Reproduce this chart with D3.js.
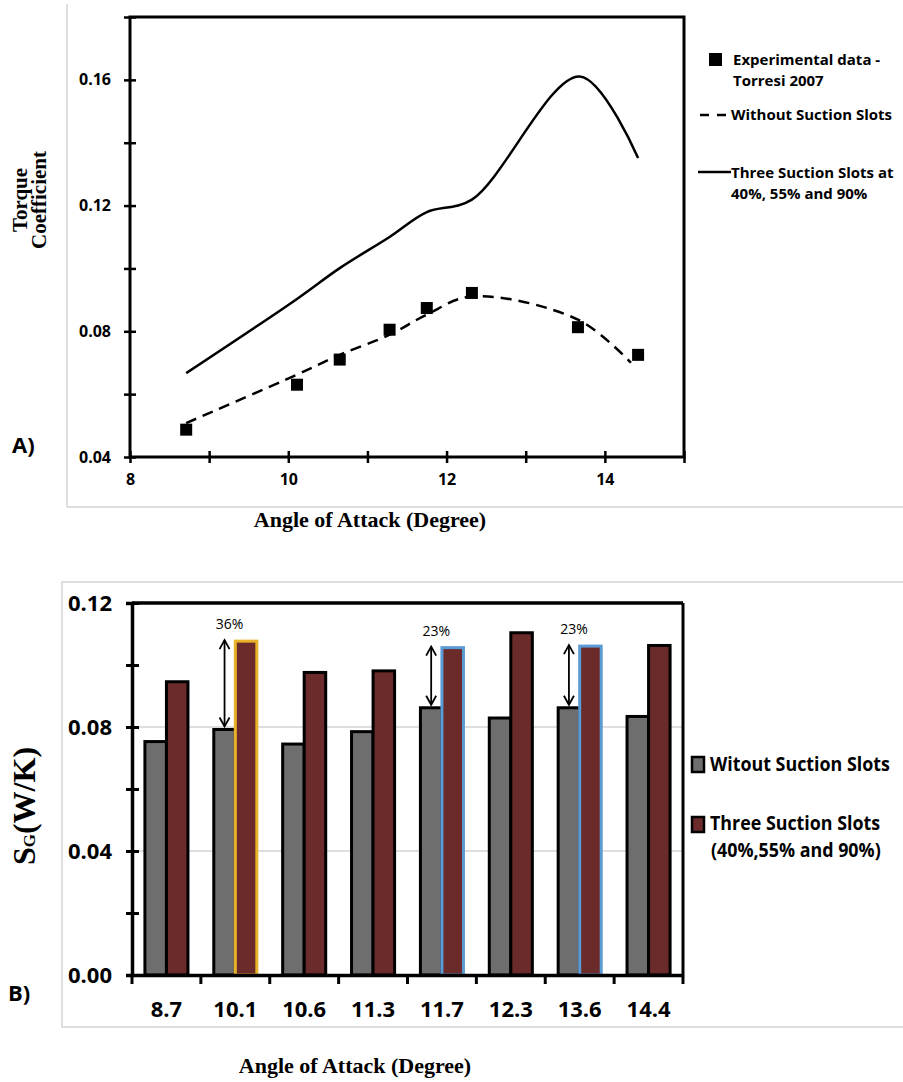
<!DOCTYPE html>
<html>
<head>
<meta charset="utf-8">
<script src="https://cdn.jsdelivr.net/npm/d3@7"></script>
<style>
  html, body { margin: 0; padding: 0; background: #fff; }
  svg { display: block; }
  .sans { font-family: "Open Sans", "Noto Sans", sans-serif; font-weight: bold; }
  .serif { font-family: "Liberation Serif", "DejaVu Serif", serif; font-weight: bold; }
</style>
</head>
<body>
<svg id="chart" width="903" height="1082"></svg>
<script>
// ---------- Panel A data ----------
const angleTicksA = [8, 10, 12, 14];
const angleMinorA = [9, 11, 13, 15];
const torqueTicks = [0.04, 0.08, 0.12, 0.16];
const torqueMinor = [0.06, 0.10, 0.14, 0.18];
const expAngles = [8.71, 10.11, 10.65, 11.28, 11.75, 12.32, 13.66, 14.42];
const expTorque = [0.0487, 0.0630, 0.0710, 0.0805, 0.0874, 0.0922, 0.0813, 0.0725];
const noSlotAngles = [8.71, 10.11, 10.65, 11.28, 11.75, 12.32, 13.66, 14.33];
const noSlotTorque = [0.0508, 0.0662, 0.0725, 0.0789, 0.0853, 0.0911, 0.0837, 0.0700];
const threeSlotAngles = [8.71, 10.11, 10.65, 11.28, 11.75, 12.32, 13.68, 14.42];
const threeSlotTorque = [0.0667, 0.0903, 0.1001, 0.1100, 0.1179, 0.1219, 0.1611, 0.1351];

// ---------- Panel B data ----------
const angleCats = ["8.7", "10.1", "10.6", "11.3", "11.7", "12.3", "13.6", "14.4"];
const sgWithout = [0.0753, 0.0792, 0.0745, 0.0785, 0.0862, 0.0829, 0.0862, 0.0834];
const sgThree = [0.0946, 0.1077, 0.0976, 0.0981, 0.1056, 0.1104, 0.1061, 0.1063];
const sgTicks = [0.00, 0.04, 0.08, 0.12];
const sgMinor = [0.02, 0.06, 0.10];
const arrowCats = ["10.1", "11.7", "13.6"];
const arrowLabels = ["36%", "23%", "23%"];
const highlightCats = ["10.1", "11.7", "13.6"];
const highlightColors = ["#E8B32A", "#5B9BD5", "#5B9BD5"];

const svg = d3.select("#chart");

// panel borders
svg.append("line").attr("x1", 67).attr("x2", 67).attr("y1", 4).attr("y2", 507)
  .attr("stroke", "#d4d4d4").attr("stroke-width", 1.5);
svg.append("line").attr("x1", 67).attr("x2", 903).attr("y1", 507).attr("y2", 507)
  .attr("stroke", "#d4d4d4").attr("stroke-width", 1.5);
svg.append("rect").attr("x", 62).attr("y", 582).attr("width", 850).attr("height", 445)
  .attr("fill", "none").attr("stroke", "#d4d4d4").attr("stroke-width", 1.5);

// ================= Panel A =================
const xA = d3.scaleLinear().domain([8, 15]).range([130, 684]);
const yA = d3.scaleLinear().domain([0.04, 0.18]).range([457, 17]);

const gA = svg.append("g");

// frame
gA.append("rect").attr("x", xA(8)).attr("y", yA(0.18))
  .attr("width", xA(15) - xA(8)).attr("height", yA(0.04) - yA(0.18))
  .attr("fill", "none").attr("stroke", "#000").attr("stroke-width", 3);

// y axis
const yAxisA = gA.append("g").attr("transform", `translate(${xA(8)},0)`)
  .call(d3.axisLeft(yA).tickValues(torqueTicks.concat(torqueMinor))
    .tickFormat(d => torqueTicks.some(t => Math.abs(t - d) < 1e-9) ? d3.format(".2f")(d) : "")
    .tickSize(6).tickPadding(13));
yAxisA.select(".domain").remove();
yAxisA.selectAll(".tick line").attr("x1", 6).attr("stroke", "#000").attr("stroke-width", 2.5);
yAxisA.selectAll(".tick text").attr("class", "sans").attr("font-size", 16).attr("fill", "#000");

// x axis
const xAxisA = gA.append("g").attr("transform", `translate(0,${yA(0.04)})`)
  .call(d3.axisBottom(xA).tickValues(angleTicksA.concat(angleMinorA))
    .tickFormat(d => angleTicksA.includes(d) ? d : "")
    .tickSize(6).tickPadding(11));
xAxisA.select(".domain").remove();
xAxisA.selectAll(".tick line").attr("y1", -6).attr("stroke", "#000").attr("stroke-width", 2.5);
xAxisA.selectAll(".tick text").attr("class", "sans").attr("font-size", 16).attr("fill", "#000");

// curves
const lineThree = d3.line().x((d, i) => xA(threeSlotAngles[i])).y(d => yA(d))
  .curve(d3.curveCatmullRom.alpha(0.5));
gA.append("path").datum(threeSlotTorque).attr("d", lineThree)
  .attr("fill", "none").attr("stroke", "#000").attr("stroke-width", 2.5);

const lineNo = d3.line().x((d, i) => xA(noSlotAngles[i])).y(d => yA(d))
  .curve(d3.curveCatmullRom.alpha(0.5));
gA.append("path").datum(noSlotTorque).attr("d", lineNo)
  .attr("fill", "none").attr("stroke", "#000").attr("stroke-width", 2.5)
  .attr("stroke-dasharray", "11,7");

// experimental squares
gA.selectAll("rect.exp").data(expTorque).join("rect").attr("class", "exp")
  .attr("x", (d, i) => xA(expAngles[i]) - 6).attr("y", d => yA(d) - 6)
  .attr("width", 12).attr("height", 12).attr("fill", "#000");

// legend A
gA.append("rect").attr("x", 709).attr("y", 53).attr("width", 13).attr("height", 13).attr("fill", "#000");
gA.append("text").attr("class", "sans").attr("font-size", 15).attr("x", 733).attr("y", 65).text("Experimental data -");
gA.append("text").attr("class", "sans").attr("font-size", 15).attr("x", 733).attr("y", 86).text("Torresi 2007");
gA.append("line").attr("x1", 700).attr("x2", 729).attr("y1", 115).attr("y2", 115)
  .attr("stroke", "#000").attr("stroke-width", 2.5).attr("stroke-dasharray", "9,8");
gA.append("text").attr("class", "sans").attr("font-size", 15).attr("x", 731).attr("y", 120).text("Without Suction Slots");
gA.append("line").attr("x1", 698).attr("x2", 731).attr("y1", 172).attr("y2", 172)
  .attr("stroke", "#000").attr("stroke-width", 2.5);
gA.append("text").attr("class", "sans").attr("font-size", 15).attr("x", 731).attr("y", 178).text("Three Suction Slots at");
gA.append("text").attr("class", "sans").attr("font-size", 15).attr("x", 731).attr("y", 199).text("40%, 55% and 90%");

// titles A
gA.append("text").attr("class", "serif").attr("font-size", 21).attr("text-anchor", "middle")
  .attr("transform", "translate(27,200) rotate(-90)").text("Torque");
gA.append("text").attr("class", "serif").attr("font-size", 21).attr("text-anchor", "middle")
  .attr("transform", "translate(46,200) rotate(-90)").text("Coefficient");
gA.append("text").attr("class", "serif").attr("font-size", 22).attr("text-anchor", "middle")
  .attr("x", 370).attr("y", 527).text("Angle of Attack (Degree)");
gA.append("text").attr("class", "sans").attr("font-size", 22).attr("x", 12).attr("y", 453).text("A)");

// ================= Panel B =================
const xB = d3.scaleBand().domain(angleCats).range([132, 683]).paddingInner(0).paddingOuter(0);
const x1 = d3.scaleBand().domain(["without", "three"]).range([0, xB.bandwidth()]).paddingInner(0).paddingOuter(0.6);
const yB = d3.scaleLinear().domain([0, 0.12]).range([975, 603]);

const gB = svg.append("g");

// grid
gB.selectAll("line.grid").data([0.04, 0.08]).join("line").attr("class", "grid")
  .attr("x1", 132).attr("x2", 683).attr("y1", d => yB(d)).attr("y2", d => yB(d))
  .attr("stroke", "#bdbdbd").attr("stroke-width", 1.2);

// bars
const barGroups = gB.selectAll("g.cat").data(angleCats).join("g").attr("class", "cat")
  .attr("transform", d => `translate(${xB(d)},0)`);
barGroups.append("rect")
  .attr("x", x1("without")).attr("width", x1.bandwidth())
  .attr("y", (d, i) => yB(sgWithout[i])).attr("height", (d, i) => yB(0) - yB(sgWithout[i]))
  .attr("fill", "#6E6E6E").attr("stroke", "#000").attr("stroke-width", 3);
barGroups.append("rect")
  .attr("x", x1("three")).attr("width", x1.bandwidth())
  .attr("y", (d, i) => yB(sgThree[i])).attr("height", (d, i) => yB(0) - yB(sgThree[i]))
  .attr("fill", "#6C2B2B")
  .attr("stroke", d => { const k = highlightCats.indexOf(d); return k >= 0 ? highlightColors[k] : "#000"; })
  .attr("stroke-width", 3);

// frame (top & right)
gB.append("line").attr("x1", 132).attr("x2", 683).attr("y1", yB(0.12)).attr("y2", yB(0.12))
  .attr("stroke", "#000").attr("stroke-width", 3.5);
gB.append("line").attr("x1", 683).attr("x2", 683).attr("y1", yB(0.12)).attr("y2", yB(0))
  .attr("stroke", "#000").attr("stroke-width", 3);

// y axis B
const yAxisB = gB.append("g").attr("transform", "translate(132,0)")
  .call(d3.axisLeft(yB).tickValues(sgTicks.concat(sgMinor))
    .tickFormat(d => sgTicks.some(t => Math.abs(t - d) < 1e-9) ? d3.format(".2f")(d) : "")
    .tickSize(6).tickPadding(14));
yAxisB.select(".domain").attr("stroke", "#000").attr("stroke-width", 3.5);
yAxisB.selectAll(".tick line").attr("x1", 7).attr("stroke", "#000").attr("stroke-width", 3);
yAxisB.selectAll(".tick text").attr("class", "sans").attr("font-size", 22).attr("fill", "#000");

// x axis B
const xAxisB = gB.append("g").attr("transform", `translate(0,${yB(0)})`)
  .call(d3.axisBottom(xB).tickSize(0).tickPadding(26));
xAxisB.select(".domain").attr("stroke", "#000").attr("stroke-width", 3.5);
xAxisB.selectAll(".tick text").attr("class", "sans").attr("font-size", 22).attr("fill", "#000");
const boundaries = angleCats.map(c => xB(c)).concat([xB.range()[1]]);
xAxisB.selectAll("line.sep").data(boundaries).join("line").attr("class", "sep")
  .attr("x1", d => d).attr("x2", d => d).attr("y1", 0).attr("y2", 9)
  .attr("stroke", "#000").attr("stroke-width", 3);

// arrows & annotations
function arrowHead(g, x, y, dir) {
  g.append("path")
    .attr("d", `M${x - 5},${y + dir * 9} L${x},${y} L${x + 5},${y + dir * 9}`)
    .attr("fill", "none").attr("stroke", "#000").attr("stroke-width", 1.8);
}
arrowCats.forEach((c, k) => {
  const i = angleCats.indexOf(c);
  const x = xB(c) + x1("without") + x1.bandwidth() / 2;
  const yTop = yB(sgThree[i]) - 1;
  const yBot = yB(sgWithout[i]) - 3;
  gB.append("line").attr("x1", x).attr("x2", x).attr("y1", yTop).attr("y2", yBot)
    .attr("stroke", "#000").attr("stroke-width", 1.8);
  arrowHead(gB, x, yTop, 1);
  arrowHead(gB, x, yBot, -1);
  gB.append("text").attr("font-family", "'Open Sans', sans-serif").attr("font-size", 14)
    .attr("text-anchor", "middle").attr("x", x + 5).attr("y", yTop - 11).text(arrowLabels[k]);
});

// legend B
gB.append("rect").attr("x", 692).attr("y", 757).attr("width", 12).attr("height", 15)
  .attr("fill", "#6E6E6E").attr("stroke", "#000").attr("stroke-width", 2.5);
gB.append("text").attr("class", "sans").attr("font-size", 19)
  .attr("transform", "translate(710,771) scale(0.94,1)").text("Witout Suction Slots");
gB.append("rect").attr("x", 692).attr("y", 817).attr("width", 12).attr("height", 15)
  .attr("fill", "#6C2B2B").attr("stroke", "#000").attr("stroke-width", 2.5);
gB.append("text").attr("class", "sans").attr("font-size", 19)
  .attr("transform", "translate(710,830) scale(0.94,1)").text("Three Suction Slots");
gB.append("text").attr("class", "sans").attr("font-size", 19)
  .attr("transform", "translate(711,857) scale(0.94,1)").text("(40%,55% and 90%)");

// titles B
const sgTitle = gB.append("text").attr("class", "serif").attr("text-anchor", "middle")
  .attr("transform", "translate(35,806) rotate(-90)");
sgTitle.append("tspan").attr("font-size", 32).text("S");
sgTitle.append("tspan").attr("font-size", 17).text("G");
sgTitle.append("tspan").attr("font-size", 32).text("(W/K)");
gB.append("text").attr("class", "serif").attr("font-size", 22).attr("text-anchor", "middle")
  .attr("x", 355).attr("y", 1073).text("Angle of Attack (Degree)");
gB.append("text").attr("class", "sans").attr("font-size", 22).attr("x", 8).attr("y", 1001).text("B)");
</script>
</body>
</html>
